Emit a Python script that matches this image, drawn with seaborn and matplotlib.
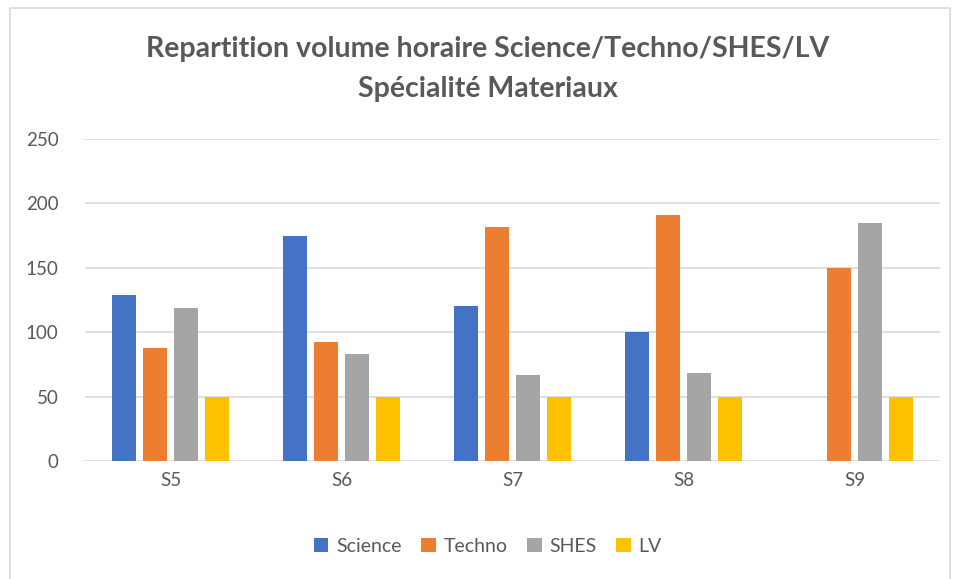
import seaborn as sns
import matplotlib.pyplot as plt
import pandas as pd
from matplotlib.patches import Rectangle

semestres = ['S5', 'S6', 'S7', 'S8', 'S9']
science = [129, 175, 120, 100, 0]
techno = [88, 92, 182, 191, 150]
shes = [119, 83, 67, 68, 185]
lv = [50, 50, 50, 50, 50]
matieres = ['Science', 'Techno', 'SHES', 'LV']
couleurs = ['#4472C4', '#ED7D31', '#A5A5A5', '#FFC000']

df = pd.DataFrame({'semestre': semestres * 4,
                   'matiere': sum([[m] * 5 for m in matieres], []),
                   'heures': science + techno + shes + lv})

sns.set_style('white')
plt.rcParams['font.family'] = ['Lato', 'DejaVu Sans']
gris = '#595959'

fig = plt.figure(figsize=(9.56, 5.79), dpi=100)
ax = fig.add_axes([0.0889, 0.2038, 0.8944, 0.5562])

sns.barplot(data=df, x='semestre', y='heures', hue='matiere', palette=couleurs,
            saturation=1, width=0.725, gap=0.22, ax=ax, zorder=3, linewidth=0)

ax.set_ylim(0, 250)
ax.set_yticks(range(0, 251, 50))
ax.yaxis.grid(True, color='#D9D9D9', lw=1.2, zorder=0)
ax.set_axisbelow(True)
for s in ax.spines.values():
    s.set_visible(False)
ax.set_xlabel('')
ax.set_ylabel('')
ax.tick_params(axis='both', length=0, labelsize=13.5, colors=gris, pad=8)
ax.tick_params(axis='y', pad=19)

ax.legend(loc='center', bbox_to_anchor=(0.471, -0.264), ncol=4, frameon=False,
          fontsize=14, labelcolor=gris, handlelength=0.75, handleheight=0.75,
          columnspacing=1.0, handletextpad=0.4)

fig.text(0.5105, 0.915, 'Repartition volume horaire Science/Techno/SHES/LV',
         ha='center', va='center', fontsize=20.5, fontweight='bold', color=gris)
fig.text(0.5105, 0.847, 'Spécialité Materiaux',
         ha='center', va='center', fontsize=20.5, fontweight='bold', color=gris)

fig.patches.append(Rectangle((10 / 956, -0.01), 940 / 956, 1 - 8 / 579 + 0.01,
                             transform=fig.transFigure, fill=False,
                             edgecolor='#D9D9D9', lw=1.2))

fig.savefig('out.png', dpi=100)
